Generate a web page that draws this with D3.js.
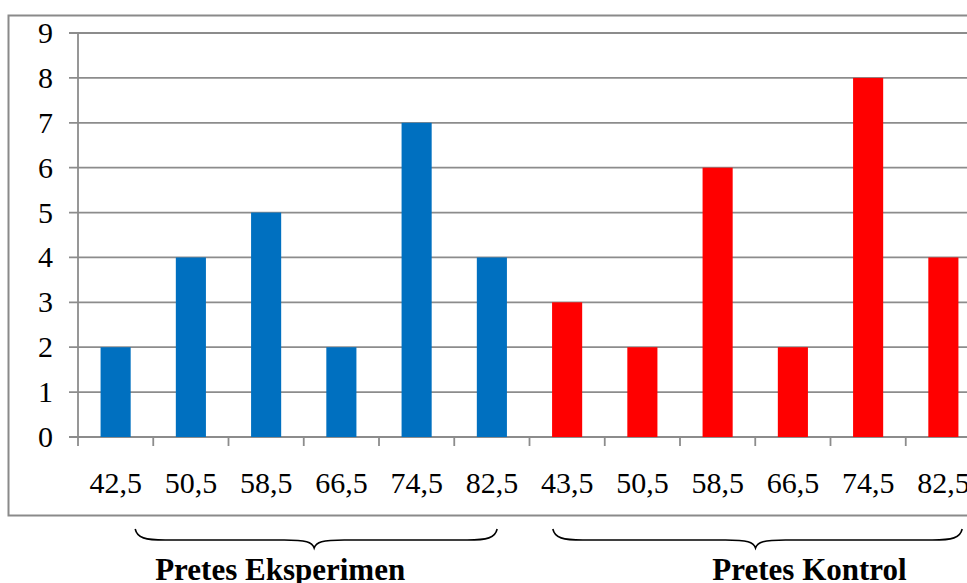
<!DOCTYPE html>
<html>
<head>
<meta charset="utf-8">
<script src="https://cdn.jsdelivr.net/npm/d3@7"></script>
<style>
  html, body { margin: 0; padding: 0; background: #fff; overflow: hidden; }
  svg { display: block; }
  text { font-family: "Liberation Serif", "Times New Roman", serif; fill: #000; }
</style>
</head>
<body>
<svg id="chart" width="967" height="583"></svg>
<script>
// Frequency of pretest scores (class midpoints) for the two groups
const groupNames = ["Pretes Eksperimen", "Pretes Kontrol"];
const eksperimenLabels = ["42,5", "50,5", "58,5", "66,5", "74,5", "82,5"];
const eksperimenValues = [2, 4, 5, 2, 7, 4];
const kontrolLabels = ["43,5", "50,5", "58,5", "66,5", "74,5", "82,5"];
const kontrolValues = [3, 2, 6, 2, 8, 4];
const groupColors = ["#0070C0", "#FF0000"];
const yTicks = [0, 1, 2, 3, 4, 5, 6, 7, 8, 9];

// One row per bar, keyed by position so repeated labels stay distinct
const rows = [
  ...eksperimenLabels.map((label, i) => ({ key: "e" + i, label, value: eksperimenValues[i], group: 0 })),
  ...kontrolLabels.map((label, i) => ({ key: "k" + i, label, value: kontrolValues[i], group: 1 }))
];

const svg = d3.select("#chart");
const plot = { left: 78, right: 981, top: 33, bottom: 437 };

const x = d3.scaleBand().domain(rows.map(d => d.key)).range([plot.left, plot.right]).padding(0);
const y = d3.scaleLinear().domain([0, 9]).range([plot.bottom, plot.top]);
const barWidth = x.bandwidth() * 0.4;

// Outer frame (runs off the right edge)
svg.append("rect")
  .attr("x", 8.5).attr("y", 15.5)
  .attr("width", 1000).attr("height", 500)
  .attr("fill", "none").attr("stroke", "#8a8a8a").attr("stroke-width", 2);

// Horizontal gridlines with left tick stubs
svg.append("g")
  .selectAll("line")
  .data(yTicks)
  .join("line")
  .attr("x1", plot.left - 9).attr("x2", 1000)
  .attr("y1", d => y(d)).attr("y2", d => y(d))
  .attr("stroke", "#8c8c8c").attr("stroke-width", 1.8);

// Bars
svg.append("g")
  .selectAll("rect")
  .data(rows)
  .join("rect")
  .attr("x", d => x(d.key) + (x.bandwidth() - barWidth) / 2)
  .attr("y", d => y(d.value))
  .attr("width", barWidth)
  .attr("height", d => y(0) - y(d.value))
  .attr("fill", d => groupColors[d.group]);

// Y axis line
svg.append("line")
  .attr("x1", plot.left).attr("x2", plot.left)
  .attr("y1", plot.top).attr("y2", plot.bottom)
  .attr("stroke", "#8c8c8c").attr("stroke-width", 1.8);

// X axis tick marks at band boundaries
const boundaries = rows.map(d => x(d.key)).concat([plot.right]);
svg.append("g")
  .selectAll("line")
  .data(boundaries)
  .join("line")
  .attr("x1", d => d).attr("x2", d => d)
  .attr("y1", plot.bottom).attr("y2", plot.bottom + 9)
  .attr("stroke", "#8c8c8c").attr("stroke-width", 1.8);

// Y tick labels
svg.append("g")
  .selectAll("text")
  .data(yTicks)
  .join("text")
  .attr("x", 53)
  .attr("y", d => y(d) + 10)
  .attr("text-anchor", "end")
  .attr("font-size", 30)
  .text(d => d);

// Category labels
svg.append("g")
  .selectAll("text")
  .data(rows)
  .join("text")
  .attr("x", d => x(d.key) + x.bandwidth() / 2)
  .attr("y", 493)
  .attr("text-anchor", "middle")
  .attr("font-size", 30)
  .text(d => d.label);

// Curly brace under each group, with its name
function bracePath(x0, x1, top, mid, tip, tipX) {
  const r = 10;
  return `M${x0},${top}` +
    ` C${x0 + 2},${mid - 2} ${x0 + r},${mid} ${x0 + 3 * r},${mid}` +
    ` L${tipX - 3 * r},${mid}` +
    ` C${tipX - 8},${mid} ${tipX - 2},${mid + 2} ${tipX},${tip}` +
    ` C${tipX + 2},${mid + 2} ${tipX + 8},${mid} ${tipX + 3 * r},${mid}` +
    ` L${x1 - 3 * r},${mid}` +
    ` C${x1 - r},${mid} ${x1 - 2},${mid - 2} ${x1},${top}`;
}

// [first key, start fraction, last key, end fraction, title shift]
const braces = [["e0", 0.76, "e5", 0.57, -34], ["k0", 0.31, "k5", 0.75, 54]];
braces.forEach(([a, fa, b, fb, shift], gi) => {
  const x0 = x(a) + x.bandwidth() * fa;
  const x1 = x(b) + x.bandwidth() * fb;
  const tipX = (x0 + x1) / 2 - 2;
  svg.append("path")
    .attr("d", bracePath(x0, x1, 529, 540, 548, tipX))
    .attr("fill", "none").attr("stroke", "#000").attr("stroke-width", 1.6);
  svg.append("text")
    .attr("x", tipX + shift)
    .attr("y", 580)
    .attr("text-anchor", "middle")
    .attr("font-size", 31)
    .attr("font-weight", "bold")
    .text(groupNames[gi]);
});
</script>
</body>
</html>
